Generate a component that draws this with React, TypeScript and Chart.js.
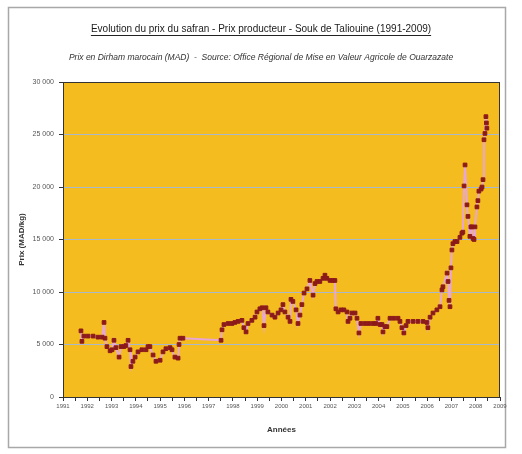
import { useEffect, useRef } from 'react';
import { Chart, registerables } from 'chart.js';

Chart.register(...registerables);

const TITLE = 'Evolution du prix du safran - Prix producteur - Souk de Taliouine (1991-2009)';
const SUBTITLE = 'Prix en Dirham marocain (MAD)  -  Source: Office Régional de Mise en Valeur Agricole de Ouarzazate';
const Y_TITLE = 'Prix (MAD/kg)';
const X_TITLE = 'Années';

const xTickLabels = ['1991', '1992', '1993', '1994', '1995', '1996', '1997', '1998', '1999', '2000',
  '2001', '2002', '2003', '2004', '2005', '2006', '2007', '2008', '2009'];
const yTickValues = [0, 5000, 10000, 15000, 20000, 25000, 30000];

const years = [
  1991.74, 1991.78, 1991.86, 1992.03, 1992.24, 1992.44, 1992.61, 1992.69, 1992.73, 1992.81,
  1992.94, 1993.02, 1993.10, 1993.18, 1993.31, 1993.39, 1993.51, 1993.59, 1993.68, 1993.76,
  1993.80, 1993.88, 1993.97, 1994.09, 1994.25, 1994.42, 1994.50, 1994.58, 1994.71, 1994.83,
  1995.00, 1995.12, 1995.24, 1995.41, 1995.49, 1995.61, 1995.74, 1995.78, 1995.82, 1995.94,
  1997.51, 1997.55, 1997.63, 1997.80, 1997.96, 1998.08, 1998.21, 1998.37, 1998.45, 1998.54,
  1998.62, 1998.78, 1998.91, 1998.99, 1999.11, 1999.20, 1999.28, 1999.36, 1999.44, 1999.61,
  1999.73, 1999.86, 1999.98, 2000.06, 2000.14, 2000.27, 2000.35, 2000.39, 2000.47, 2000.60,
  2000.68, 2000.76, 2000.84, 2000.93, 2001.05, 2001.17, 2001.30, 2001.38, 2001.46, 2001.58,
  2001.71, 2001.79, 2001.87, 2002.00, 2002.12, 2002.20, 2002.24, 2002.33, 2002.45, 2002.57,
  2002.70, 2002.74, 2002.82, 2002.90, 2003.03, 2003.11, 2003.19, 2003.27, 2003.44, 2003.60,
  2003.77, 2003.89, 2003.97, 2004.06, 2004.14, 2004.18, 2004.26, 2004.34, 2004.47, 2004.63,
  2004.80, 2004.88, 2004.96, 2005.04, 2005.13, 2005.21, 2005.42, 2005.62, 2005.83, 2005.99,
  2006.03, 2006.12, 2006.24, 2006.40, 2006.53, 2006.61, 2006.65, 2006.82, 2006.86, 2006.90,
  2006.94, 2006.98, 2007.02, 2007.06, 2007.14, 2007.23, 2007.35, 2007.43, 2007.47, 2007.52,
  2007.56, 2007.64, 2007.68, 2007.76, 2007.80, 2007.84, 2007.89, 2007.93, 2007.97, 2008.05,
  2008.09, 2008.13, 2008.22, 2008.26, 2008.30, 2008.34, 2008.38, 2008.42, 2008.44, 2008.46,
];

const prices = [
  6300, 5300, 5800, 5800, 5800, 5700, 5700, 7100, 5600, 4800,
  4400, 4500, 5400, 4700, 3800, 4800, 4800, 4900, 5400, 4500,
  2900, 3400, 3800, 4300, 4500, 4500, 4800, 4800, 4000, 3400,
  3500, 4300, 4600, 4700, 4500, 3800, 3700, 5000, 5600, 5600,
  5400, 6400, 6900, 7000, 7000, 7100, 7200, 7300, 6600, 6200,
  7000, 7300, 7600, 8100, 8400, 8500, 6800, 8500, 8100, 7800,
  7600, 8000, 8300, 8800, 8100, 7600, 7200, 9300, 9100, 8300,
  7000, 7800, 8800, 9900, 10300, 11100, 9700, 10800, 11000, 11000,
  11300, 11600, 11300, 11100, 11100, 11100, 8400, 8100, 8300, 8300,
  8100, 7200, 7500, 8000, 8000, 7500, 6100, 7000, 7000, 7000,
  7000, 7000, 7500, 6900, 6900, 6200, 6700, 6700, 7500, 7500,
  7500, 7200, 6600, 6100, 6800, 7200, 7200, 7200, 7200, 7100,
  6600, 7600, 8000, 8300, 8600, 10200, 10500, 11800, 11000, 9200,
  8600, 12300, 14000, 14600, 14800, 14800, 15200, 15600, 15700, 20100,
  22100, 18300, 17200, 15300, 16200, 16200, 15100, 15000, 16200, 18100,
  18700, 19600, 19800, 20000, 20700, 24500, 25100, 26700, 26100, 25600,
];

const FONT = "'Liberation Sans Narrow', 'Liberation Sans', Arial, sans-serif";
const YELLOW = '#F5BC1F';
const TITLE_SIZE = 10;

const fmt = (v: number) => String(v).replace(/\B(?=(\d{3})+(?!\d))/g, ' ');

const decor = {
  id: 'decor',
  beforeDraw(chart: any) {
    const { ctx, chartArea: a } = chart;
    ctx.save();
    ctx.fillStyle = '#ffffff';
    ctx.fillRect(0, 0, chart.width, chart.height);
    ctx.strokeStyle = '#a8a8a8';
    ctx.lineWidth = 1.5;
    ctx.strokeRect(8.5, 7.5, 497, 440);
    ctx.fillStyle = YELLOW;
    ctx.fillRect(a.left, a.top, a.right - a.left, a.bottom - a.top);
    ctx.restore();
  },
  afterDraw(chart: any) {
    const { ctx, chartArea: a } = chart;
    ctx.save();
    ctx.strokeStyle = '#333333';
    ctx.lineWidth = 1;
    ctx.strokeRect(a.left + 0.5, a.top + 0.5, a.right - a.left - 1, a.bottom - a.top);
    const tb = chart.titleBlock;
    if (tb) {
      ctx.font = `${TITLE_SIZE}px ${FONT}`;
      const w = ctx.measureText(TITLE).width;
      const cx = (tb.left + tb.right) / 2;
      const y = Math.round(tb.top + 23 + TITLE_SIZE * 0.6 + 5.5) + 0.5;
      ctx.strokeStyle = '#222222';
      ctx.beginPath();
      ctx.moveTo(cx - w / 2, y);
      ctx.lineTo(cx + w / 2, y);
      ctx.stroke();
    }
    ctx.restore();
  },
};

export default function App() {
  const ref = useRef<HTMLCanvasElement>(null);
  useEffect(() => {
    if (!ref.current) return;
    const points = years.map((x, i) => ({ x, y: prices[i] }));
    const chart = new Chart(ref.current, {
      type: 'line',
      data: {
        datasets: [
          {
            data: points,
            borderColor: '#E7A6D4',
            borderWidth: 2,
            tension: 0,
            pointStyle: 'rect',
            pointRadius: 2.6,
            pointBackgroundColor: '#8B1A1A',
            pointBorderColor: '#8B1A1A',
            pointBorderWidth: 1,
          },
        ],
      },
      options: {
        responsive: false,
        animation: false,
        layout: { padding: 0 },
        plugins: {
          legend: { display: false },
          tooltip: { enabled: false },
          title: {
            display: true,
            text: TITLE,
            color: '#1a1a1a',
            font: { family: FONT, size: TITLE_SIZE, weight: 'normal' },
            padding: { top: 23, bottom: 0 },
          },
          subtitle: {
            display: true,
            text: SUBTITLE,
            color: '#333333',
            font: { family: FONT, size: 8.5, style: 'italic' },
            padding: { top: 17.9, bottom: 18.9 },
          },
        },
        scales: {
          x: {
            type: 'linear',
            min: 1991,
            max: 2009,
            afterFit: (s: any) => { s.height = 57; },
            ticks: {
              stepSize: 0.5,
              autoSkip: false,
              maxRotation: 0,
              padding: 2,
              color: '#555555',
              font: { family: FONT, size: 6 },
              callback: (v: any) => {
                const n = Number(v);
                return Number.isInteger(n) ? (xTickLabels.find((l) => Number(l) === n) ?? '') : '';
              },
            },
            grid: { drawOnChartArea: false, drawTicks: true, tickLength: 4, tickColor: '#333333' },
            border: { color: '#333333' },
            title: {
              display: true,
              text: X_TITLE,
              color: '#333333',
              font: { family: FONT, size: 8, weight: 'bold' },
              padding: { top: 0, bottom: 19.2 },
            },
          },
          y: {
            type: 'linear',
            position: 'left',
            min: 0,
            max: 30000,
            afterFit: (s: any) => { s.width = 63; },
            afterBuildTicks: (s: any) => { s.ticks = yTickValues.map((value) => ({ value })); },
            ticks: {
              padding: 5,
              color: '#555555',
              font: { family: FONT, size: 7 },
              callback: (v: any) => fmt(Number(v)),
            },
            grid: {
              color: (c: any) => (c.tick && c.tick.value === 30000 ? '#222222' : '#A9B8CB'),
              lineWidth: 1,
              tickLength: 4,
              tickColor: '#333333',
            },
            border: { color: '#333333' },
            title: {
              display: true,
              text: Y_TITLE,
              color: '#333333',
              font: { family: FONT, size: 8, weight: 'bold' },
              padding: { top: 17, bottom: 0 },
            },
          },
          yRight: {
            type: 'linear',
            position: 'right',
            display: true,
            afterFit: (s: any) => { s.width = 22; },
            ticks: { display: false },
            grid: { display: false },
            border: { display: false },
          },
        },
      },
      plugins: [decor],
    } as any);
    return () => chart.destroy();
  }, []);
  return (
    <div style={{ position: 'absolute', left: 0, top: 0, width: 522, height: 454 }}>
      <canvas ref={ref} width={522} height={454} style={{ display: 'block' }} />
    </div>
  );
}
